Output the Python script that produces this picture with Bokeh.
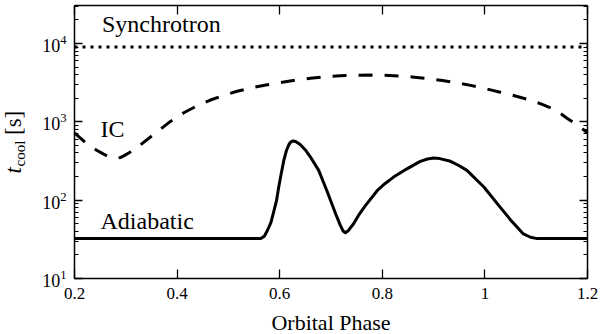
import math
from bokeh.plotting import figure
from bokeh.models import (Range1d, LinearAxis, LogAxis, FixedTicker, LogTicker, Label,
                          CustomJSTickFormatter)
from bokeh.embed import file_html
from bokeh.resources import INLINE

# ---------------- data ----------------
phase_ticks = [0.2, 0.4, 0.6, 0.8, 1.0, 1.2]
phase_tick_labels = ["0.2", "0.4", "0.6", "0.8", "1", "1.2"]

sync_phase = [0.2, 1.2]
sync_tcool = [9000, 9000]

ic_phase = [0.200, 0.210, 0.221, 0.232, 0.244, 0.256, 0.265, 0.273, 0.283, 0.290,
            0.296, 0.309, 0.322, 0.345, 0.368, 0.387, 0.413, 0.439, 0.465, 0.491,
            0.517, 0.550, 0.576, 0.605, 0.631, 0.660, 0.693, 0.718, 0.744, 0.777,
            0.803, 0.832, 0.858, 0.887, 0.917, 0.946, 0.972, 1.001, 1.030, 1.056,
            1.082, 1.108, 1.138, 1.160, 1.183, 1.200]
ic_tcool = [724, 631, 546, 484, 431, 389, 363, 349, 343, 351,
            367, 412, 470, 617, 809, 1012, 1303, 1603, 1897, 2178,
            2455, 2754, 2972, 3199, 3404, 3606, 3784, 3873, 3926, 3945,
            3917, 3846, 3733, 3573, 3373, 3148, 2917, 2649, 2388, 2163,
            1941, 1706, 1419, 1109, 881, 724]

adi_phase = [0.200, 0.300, 0.400, 0.500, 0.563, 0.570, 0.576, 0.583, 0.589, 0.594,
             0.598, 0.603, 0.608, 0.613, 0.618, 0.622, 0.626, 0.631, 0.640, 0.650,
             0.660, 0.676, 0.692, 0.709, 0.718, 0.724, 0.728, 0.733, 0.744, 0.755,
             0.767, 0.790, 0.805, 0.822, 0.848, 0.874, 0.888, 0.900, 0.912, 0.933,
             0.950, 0.965, 0.998, 1.030, 1.050, 1.063, 1.075, 1.089, 1.102, 1.150,
             1.200]
adi_tcool = [32.3, 32.3, 32.3, 32.3, 32.3, 34.7, 41, 52, 74, 100,
             146, 219, 321, 427, 513, 556, 570, 562, 513, 437,
             355, 240, 132, 67, 48, 40, 38.5, 40.3, 50, 66,
             85, 132, 162, 197, 251, 313, 335, 344, 339, 313,
             275, 240, 147, 81, 56, 45, 37, 33.6, 32.3, 32.3,
             32.5]

# ---------------- layout ----------------
FONT = "Liberation Serif"
W, H = 600, 334
# plot box (axes rectangle) in canvas pixels and its data limits
FL, FR, FT, FB = 74, 587, 5, 278
XB0, XB1 = 0.2, 1.2
YB0, YB1 = 10.0, 3.05e4

SX = (XB1 - XB0) / (FR - FL)                                  # data per px
LY = (math.log10(YB1) - math.log10(YB0)) / (FB - FT)          # decades per px
X0 = XB0 - FL * SX
X1 = XB0 + (W - FL) * SX
Y0 = 10 ** (math.log10(YB0) - (H - FB) * LY)
Y1 = 10 ** (math.log10(YB0) + FB * LY)


def px2x(px):
    return XB0 + (px - FL) * SX


def py2y(py):
    return 10 ** (math.log10(YB0) + (FB - py) * LY)


p = figure(width=W, height=H, x_range=Range1d(X0, X1), y_range=Range1d(Y0, Y1),
           y_axis_type="log", output_backend="svg", toolbar_location=None,
           min_border=0)
p.xgrid.visible = False
p.ygrid.visible = False
p.background_fill_color = "white"
p.border_fill_color = "white"
p.outline_line_color = None

blank = CustomJSTickFormatter(code="return '';")

# bottom x axis
xa = p.xaxis[0]
xa.fixed_location = YB0
xa.bounds = (XB0, XB1)
xa.ticker = FixedTicker(ticks=phase_ticks, minor_ticks=[])
xa.major_label_overrides = dict(zip(phase_ticks, phase_tick_labels))
xa.major_label_text_font = FONT
xa.major_label_text_font_size = "17px"
xa.major_label_text_color = "black"
xa.major_label_standoff = 9

# top x axis (ticks only)
xt = LinearAxis(ticker=FixedTicker(ticks=phase_ticks, minor_ticks=[]), formatter=blank,
                fixed_location=YB1, bounds=(XB0, XB1))
xt.major_label_text_font_size = "1px"
xt.major_label_standoff = 0
p.add_layout(xt, "above")

for ax in (xa, xt):
    ax.major_tick_in = 9
    ax.major_tick_out = 0
    ax.minor_tick_line_color = None
    ax.axis_line_width = 1.5
    ax.axis_line_color = "black"
    ax.major_tick_line_width = 1.3
    ax.major_tick_line_color = "black"

# left y axis
ya = p.yaxis[0]
ya.fixed_location = XB0
ya.bounds = (YB0, YB1)
ya.ticker = LogTicker(num_minor_ticks=10)
ya.major_label_text_font = FONT
ya.major_label_text_font_size = "18px"
ya.major_label_text_color = "black"
ya.major_label_standoff = 8

# right y axis (ticks only)
yr = LogAxis(ticker=LogTicker(num_minor_ticks=10), formatter=blank,
             fixed_location=XB1, bounds=(YB0, YB1))
yr.major_label_text_font_size = "1px"
yr.major_label_standoff = 0
p.add_layout(yr, "right")

for ax in (ya, yr):
    ax.major_tick_in = 8
    ax.major_tick_out = 0
    ax.minor_tick_in = 4
    ax.minor_tick_out = 0
    ax.axis_line_width = 1.5
    ax.axis_line_color = "black"
    ax.major_tick_line_width = 1.3
    ax.minor_tick_line_width = 1.2
    ax.major_tick_line_color = "black"
    ax.minor_tick_line_color = "black"

# ---------------- curves ----------------
p.line(sync_phase, sync_tcool, line_color="black", line_width=3, line_dash="3 5")
p.line(ic_phase, ic_tcool, line_color="black", line_width=3, line_dash="14 12")
p.line(adi_phase, adi_tcool, line_color="black", line_width=3, line_join="round")


# ---------------- texts ----------------
# (px, baseline py) in canvas pixels; Bokeh centres the text box vertically,
# so shift from the baseline to the middle of the box.
def lab(text, px, base, size, style="normal", angle=0.0, align="left"):
    mid = 0.34 * size
    if angle == 0.0:
        x, y = px2x(px), py2y(base - mid)
    else:  # rotated 90 deg counter-clockwise: text 'up' points to -x
        x, y = px2x(base - mid), py2y(px)
    p.add_layout(Label(x=x, y=y, text=text, text_font=FONT,
                       text_font_size=f"{size}px", text_font_style=style,
                       text_color="black", angle=angle, text_align=align,
                       text_baseline="middle"))


lab("Synchrotron", 101.5, 31.7, 24)
lab("IC", 100, 137, 24)
lab("Adiabatic", 100, 229, 24)
lab("Orbital Phase", (FL + FR) / 2, 329, 22, align="center")

# y-axis title: t_cool [s]  (for rotated text: px = start along the text, base = baseline x)
lab("t", 173, 21, 23, style="italic", angle=math.pi / 2)
lab("cool", 166, 24.5, 15, angle=math.pi / 2)
lab("[s]", 134.5, 21, 23, angle=math.pi / 2)

html = file_html(p, INLINE)
open("out.html", "w").write(html)
